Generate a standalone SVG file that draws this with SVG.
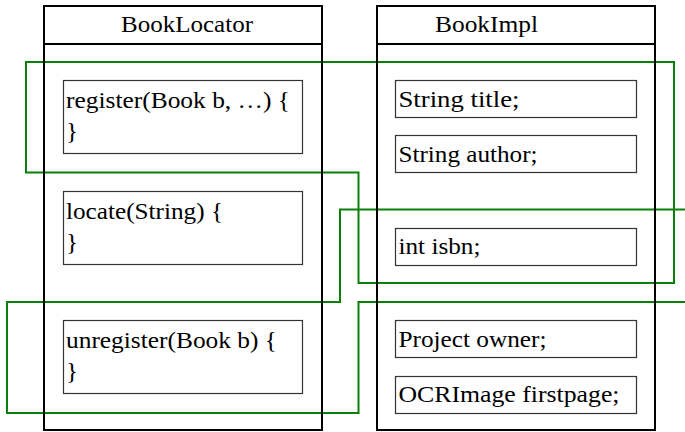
<svg xmlns="http://www.w3.org/2000/svg" width="685" height="432" viewBox="0 0 685 432">
<style>
  .outer { fill: none; stroke: #000; stroke-width: 2; }
  .inner { fill: #fff; stroke: #333; stroke-width: 1.2; }
  .t { font-family: "Liberation Serif", "Times New Roman", serif; font-size: 24px; fill: #000; }
  .conn { fill: none; stroke: #0a800a; stroke-width: 2; stroke-linejoin: miter; }
</style>
<rect width="685" height="432" fill="#fff"/>
<g id="connectors">
  <polygon class="conn" points="26,62 674,62 674,283 358.5,283 358.5,172.5 26,172.5"/>
  <polyline class="conn" points="686,209.5 340,209.5 340,302 7,302 7,413 358.5,413 358.5,302 686,302"/>
</g>
<g id="BookLocator">
  <rect class="outer" x="44" y="6" width="278" height="424"/>
  <line class="outer" x1="44" y1="44" x2="322" y2="44"/>
  <text class="t" x="121" y="32" textLength="132" lengthAdjust="spacingAndGlyphs">BookLocator</text>
  <g id="register">
    <rect class="inner" x="63.5" y="80.5" width="239" height="73"/>
    <text class="t" x="66" y="108" textLength="224" lengthAdjust="spacingAndGlyphs">register(Book b, …) {</text>
    <text class="t" x="66" y="138.5" textLength="12" lengthAdjust="spacingAndGlyphs">}</text>
  </g>
  <g id="locate">
    <rect class="inner" x="63.5" y="191.5" width="239" height="73"/>
    <text class="t" x="66" y="219" textLength="157" lengthAdjust="spacingAndGlyphs">locate(String) {</text>
    <text class="t" x="66" y="249.5" textLength="12" lengthAdjust="spacingAndGlyphs">}</text>
  </g>
  <g id="unregister">
    <rect class="inner" x="63.5" y="320.5" width="239" height="73"/>
    <text class="t" x="66" y="348" textLength="211" lengthAdjust="spacingAndGlyphs">unregister(Book b) {</text>
    <text class="t" x="66" y="378.5" textLength="12" lengthAdjust="spacingAndGlyphs">}</text>
  </g>
</g>
<g id="BookImpl">
  <rect class="outer" x="377" y="6" width="278" height="424"/>
  <line class="outer" x1="377" y1="44" x2="655" y2="44"/>
  <text class="t" x="435" y="32" textLength="103" lengthAdjust="spacingAndGlyphs">BookImpl</text>
  <g id="title">
    <rect class="inner" x="395.5" y="80.5" width="241" height="37"/>
    <text class="t" x="398.5" y="107" textLength="121" lengthAdjust="spacingAndGlyphs">String title;</text>
  </g>
  <g id="author">
    <rect class="inner" x="395.5" y="135.5" width="241" height="37"/>
    <text class="t" x="398.5" y="162" textLength="139" lengthAdjust="spacingAndGlyphs">String author;</text>
  </g>
  <g id="isbn">
    <rect class="inner" x="395.5" y="228.5" width="241" height="37"/>
    <text class="t" x="398.5" y="254" textLength="82" lengthAdjust="spacingAndGlyphs">int isbn;</text>
  </g>
  <g id="owner">
    <rect class="inner" x="395.5" y="320.5" width="241" height="37"/>
    <text class="t" x="398.5" y="347" textLength="148" lengthAdjust="spacingAndGlyphs">Project owner;</text>
  </g>
  <g id="firstpage">
    <rect class="inner" x="395.5" y="376.5" width="241" height="37"/>
    <text class="t" x="398.5" y="402" textLength="221" lengthAdjust="spacingAndGlyphs">OCRImage firstpage;</text>
  </g>
</g>
</svg>
